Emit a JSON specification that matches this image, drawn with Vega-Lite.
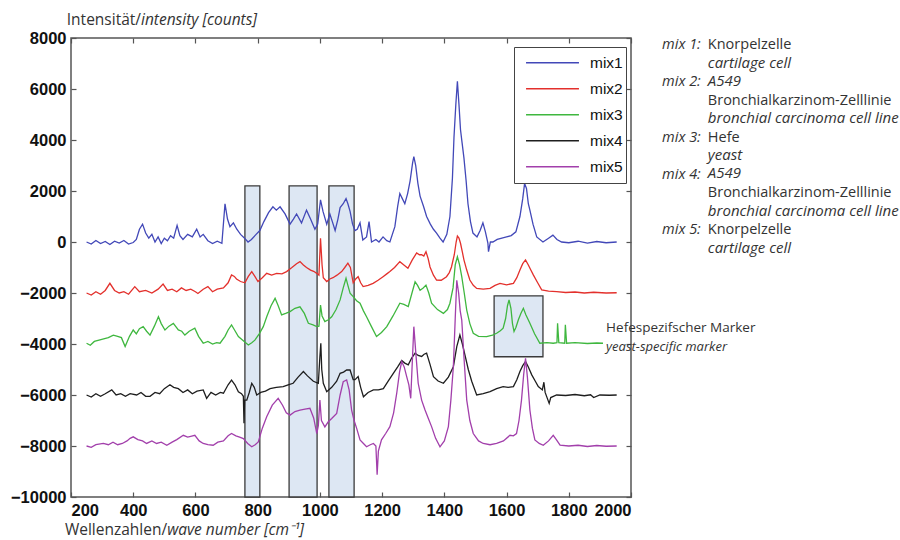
{
  "$schema": "https://vega.github.io/schema/vega-lite/v6.json",
  "autosize": "none",
  "width": 560,
  "height": 459,
  "padding": {"left": 71, "top": 38, "right": 269, "bottom": 43},
  "background": "white",
  "config": {
    "view": {"stroke": "#555", "strokeWidth": 1.5},
    "axis": {"domain": false, "grid": false, "tickColor": "#555", "tickSize": 5, "tickWidth": 1.2, "offset": -5, "labelPadding": 5, "labelFont": "Liberation Sans", "labelFontWeight": "bold", "labelFontSize": 16.5, "labelColor": "#111", "format": "d", "title": null},
    "legend": {"orient": "none", "legendX": 443, "legendY": 9, "strokeColor": "#444", "fillColor": "white", "padding": 3, "clipHeight": 25.5, "rowPadding": 0, "symbolOffset": 8, "labelOffset": 10, "symbolType": "stroke", "symbolSize": 2800, "symbolStrokeWidth": 1.5, "labelFont": "Liberation Sans", "labelFontSize": 15.5, "labelColor": "#111", "title": null},
    "text": {"font": "Open Sans", "align": "left", "baseline": "alphabetic", "color": "#333", "fontSize": 14.5, "lineHeight": 18.5}
  },
  "datasets": {
    "boxes": [
      {"x1": 759, "x2": 807, "y1": -10000, "y2": 2200},
      {"x1": 901, "x2": 991, "y1": -10000, "y2": 2200},
      {"x1": 1029, "x2": 1110, "y1": -10000, "y2": 2200},
      {"x1": 1560, "x2": 1717, "y1": -4500, "y2": -2110}
    ],
    "spectra": [
{"series":"mix1","wn":250,"counts":0},{"series":"mix1","wn":265,"counts":-80},{"series":"mix1","wn":280,"counts":60},{"series":"mix1","wn":295,"counts":-60},{"series":"mix1","wn":310,"counts":20},{"series":"mix1","wn":325,"counts":-100},{"series":"mix1","wn":340,"counts":30},{"series":"mix1","wn":355,"counts":-40},{"series":"mix1","wn":370,"counts":60},{"series":"mix1","wn":385,"counts":-80},{"series":"mix1","wn":400,"counts":-20},{"series":"mix1","wn":410,"counts":100},{"series":"mix1","wn":420,"counts":500},{"series":"mix1","wn":430,"counts":700},{"series":"mix1","wn":440,"counts":350},{"series":"mix1","wn":450,"counts":150},{"series":"mix1","wn":460,"counts":300},{"series":"mix1","wn":470,"counts":0},{"series":"mix1","wn":480,"counts":200},{"series":"mix1","wn":490,"counts":-60},{"series":"mix1","wn":500,"counts":150},{"series":"mix1","wn":510,"counts":50},{"series":"mix1","wn":520,"counts":250},{"series":"mix1","wn":530,"counts":150},{"series":"mix1","wn":541,"counts":650},{"series":"mix1","wn":550,"counts":250},{"series":"mix1","wn":560,"counts":100},{"series":"mix1","wn":575,"counts":300},{"series":"mix1","wn":590,"counts":200},{"series":"mix1","wn":604,"counts":500},{"series":"mix1","wn":615,"counts":200},{"series":"mix1","wn":625,"counts":300},{"series":"mix1","wn":640,"counts":50},{"series":"mix1","wn":655,"counts":-60},{"series":"mix1","wn":670,"counts":30},{"series":"mix1","wn":685,"counts":-50},{"series":"mix1","wn":695,"counts":1500},{"series":"mix1","wn":703,"counts":900},{"series":"mix1","wn":711,"counts":600},{"series":"mix1","wn":722,"counts":750},{"series":"mix1","wn":733,"counts":500},{"series":"mix1","wn":745,"counts":300},{"series":"mix1","wn":758,"counts":150},{"series":"mix1","wn":769,"counts":0},{"series":"mix1","wn":780,"counts":100},{"series":"mix1","wn":795,"counts":300},{"series":"mix1","wn":807,"counts":450},{"series":"mix1","wn":820,"counts":800},{"series":"mix1","wn":835,"counts":1150},{"series":"mix1","wn":849,"counts":1380},{"series":"mix1","wn":860,"counts":1250},{"series":"mix1","wn":872,"counts":1380},{"series":"mix1","wn":888,"counts":1100},{"series":"mix1","wn":904,"counts":700},{"series":"mix1","wn":915,"counts":900},{"series":"mix1","wn":925,"counts":1100},{"series":"mix1","wn":941,"counts":750},{"series":"mix1","wn":957,"counts":1250},{"series":"mix1","wn":970,"counts":900},{"series":"mix1","wn":984,"counts":500},{"series":"mix1","wn":993,"counts":700},{"series":"mix1","wn":1002,"counts":1650},{"series":"mix1","wn":1010,"counts":1200},{"series":"mix1","wn":1022,"counts":700},{"series":"mix1","wn":1032,"counts":1100},{"series":"mix1","wn":1040,"counts":800},{"series":"mix1","wn":1049,"counts":450},{"series":"mix1","wn":1058,"counts":900},{"series":"mix1","wn":1065,"counts":1350},{"series":"mix1","wn":1075,"counts":1500},{"series":"mix1","wn":1084,"counts":1700},{"series":"mix1","wn":1090,"counts":1500},{"series":"mix1","wn":1097,"counts":1200},{"series":"mix1","wn":1105,"counts":700},{"series":"mix1","wn":1113,"counts":450},{"series":"mix1","wn":1120,"counts":500},{"series":"mix1","wn":1129,"counts":750},{"series":"mix1","wn":1138,"counts":80},{"series":"mix1","wn":1150,"counts":200},{"series":"mix1","wn":1158,"counts":800},{"series":"mix1","wn":1166,"counts":0},{"series":"mix1","wn":1180,"counts":100},{"series":"mix1","wn":1190,"counts":0},{"series":"mix1","wn":1203,"counts":200},{"series":"mix1","wn":1215,"counts":50},{"series":"mix1","wn":1225,"counts":0},{"series":"mix1","wn":1241,"counts":600},{"series":"mix1","wn":1250,"counts":1400},{"series":"mix1","wn":1257,"counts":1900},{"series":"mix1","wn":1265,"counts":1700},{"series":"mix1","wn":1273,"counts":1500},{"series":"mix1","wn":1282,"counts":1900},{"series":"mix1","wn":1290,"counts":2400},{"series":"mix1","wn":1298,"counts":3100},{"series":"mix1","wn":1302,"counts":3350},{"series":"mix1","wn":1308,"counts":3000},{"series":"mix1","wn":1315,"counts":2300},{"series":"mix1","wn":1322,"counts":1800},{"series":"mix1","wn":1333,"counts":1400},{"series":"mix1","wn":1343,"counts":1000},{"series":"mix1","wn":1355,"counts":700},{"series":"mix1","wn":1365,"counts":500},{"series":"mix1","wn":1375,"counts":350},{"series":"mix1","wn":1386,"counts":150},{"series":"mix1","wn":1396,"counts":0},{"series":"mix1","wn":1408,"counts":300},{"series":"mix1","wn":1418,"counts":1000},{"series":"mix1","wn":1426,"counts":2500},{"series":"mix1","wn":1431,"counts":4100},{"series":"mix1","wn":1437,"counts":5400},{"series":"mix1","wn":1442,"counts":6300},{"series":"mix1","wn":1447,"counts":5400},{"series":"mix1","wn":1452,"counts":4400},{"series":"mix1","wn":1457,"counts":3900},{"series":"mix1","wn":1463,"counts":3300},{"series":"mix1","wn":1470,"counts":2400},{"series":"mix1","wn":1476,"counts":1500},{"series":"mix1","wn":1484,"counts":800},{"series":"mix1","wn":1492,"counts":350},{"series":"mix1","wn":1505,"counts":200},{"series":"mix1","wn":1515,"counts":450},{"series":"mix1","wn":1524,"counts":750},{"series":"mix1","wn":1532,"counts":400},{"series":"mix1","wn":1540,"counts":-40},{"series":"mix1","wn":1542,"counts":-380},{"series":"mix1","wn":1548,"counts":0},{"series":"mix1","wn":1556,"counts":0},{"series":"mix1","wn":1570,"counts":100},{"series":"mix1","wn":1585,"counts":150},{"series":"mix1","wn":1600,"counts":200},{"series":"mix1","wn":1615,"counts":250},{"series":"mix1","wn":1630,"counts":400},{"series":"mix1","wn":1643,"counts":1000},{"series":"mix1","wn":1652,"counts":1700},{"series":"mix1","wn":1658,"counts":2300},{"series":"mix1","wn":1664,"counts":2100},{"series":"mix1","wn":1670,"counts":1500},{"series":"mix1","wn":1675,"counts":1250},{"series":"mix1","wn":1685,"counts":700},{"series":"mix1","wn":1697,"counts":200},{"series":"mix1","wn":1717,"counts":0},{"series":"mix1","wn":1735,"counts":150},{"series":"mix1","wn":1749,"counts":270},{"series":"mix1","wn":1762,"counts":100},{"series":"mix1","wn":1777,"counts":0},{"series":"mix1","wn":1800,"counts":-30},{"series":"mix1","wn":1830,"counts":30},{"series":"mix1","wn":1860,"counts":-40},{"series":"mix1","wn":1890,"counts":20},{"series":"mix1","wn":1920,"counts":-30},{"series":"mix1","wn":1954,"counts":0},
{"series":"mix2","wn":250,"counts":-2000},{"series":"mix2","wn":265,"counts":-2080},{"series":"mix2","wn":280,"counts":-1950},{"series":"mix2","wn":295,"counts":-2050},{"series":"mix2","wn":310,"counts":-1900},{"series":"mix2","wn":325,"counts":-1620},{"series":"mix2","wn":340,"counts":-1900},{"series":"mix2","wn":355,"counts":-2000},{"series":"mix2","wn":370,"counts":-1950},{"series":"mix2","wn":385,"counts":-2050},{"series":"mix2","wn":405,"counts":-1750},{"series":"mix2","wn":420,"counts":-1950},{"series":"mix2","wn":440,"counts":-1900},{"series":"mix2","wn":460,"counts":-2000},{"series":"mix2","wn":480,"counts":-1850},{"series":"mix2","wn":496,"counts":-1650},{"series":"mix2","wn":510,"counts":-1900},{"series":"mix2","wn":525,"counts":-1850},{"series":"mix2","wn":540,"counts":-1950},{"series":"mix2","wn":555,"counts":-1800},{"series":"mix2","wn":570,"counts":-1900},{"series":"mix2","wn":585,"counts":-1850},{"series":"mix2","wn":600,"counts":-1950},{"series":"mix2","wn":608,"counts":-2020},{"series":"mix2","wn":625,"counts":-1850},{"series":"mix2","wn":640,"counts":-1750},{"series":"mix2","wn":655,"counts":-1950},{"series":"mix2","wn":670,"counts":-1850},{"series":"mix2","wn":690,"counts":-1800},{"series":"mix2","wn":705,"counts":-1600},{"series":"mix2","wn":716,"counts":-1290},{"series":"mix2","wn":725,"counts":-1350},{"series":"mix2","wn":732,"counts":-1450},{"series":"mix2","wn":745,"counts":-1550},{"series":"mix2","wn":759,"counts":-1600},{"series":"mix2","wn":770,"counts":-1350},{"series":"mix2","wn":781,"counts":-1160},{"series":"mix2","wn":791,"counts":-1350},{"series":"mix2","wn":801,"counts":-1550},{"series":"mix2","wn":815,"counts":-1400},{"series":"mix2","wn":829,"counts":-1230},{"series":"mix2","wn":845,"counts":-1300},{"series":"mix2","wn":861,"counts":-1230},{"series":"mix2","wn":878,"counts":-1250},{"series":"mix2","wn":893,"counts":-1160},{"series":"mix2","wn":910,"counts":-1000},{"series":"mix2","wn":925,"counts":-850},{"series":"mix2","wn":936,"counts":-770},{"series":"mix2","wn":947,"counts":-900},{"series":"mix2","wn":957,"counts":-1000},{"series":"mix2","wn":970,"counts":-1100},{"series":"mix2","wn":980,"counts":-1150},{"series":"mix2","wn":990,"counts":-1230},{"series":"mix2","wn":997,"counts":-1300},{"series":"mix2","wn":1002,"counts":150},{"series":"mix2","wn":1007,"counts":-900},{"series":"mix2","wn":1011,"counts":-1400},{"series":"mix2","wn":1022,"counts":-1550},{"series":"mix2","wn":1032,"counts":-1450},{"series":"mix2","wn":1042,"counts":-1400},{"series":"mix2","wn":1055,"counts":-1300},{"series":"mix2","wn":1070,"counts":-1160},{"series":"mix2","wn":1080,"counts":-1000},{"series":"mix2","wn":1090,"counts":-830},{"series":"mix2","wn":1098,"counts":-1000},{"series":"mix2","wn":1107,"counts":-1600},{"series":"mix2","wn":1115,"counts":-1450},{"series":"mix2","wn":1123,"counts":-1360},{"series":"mix2","wn":1131,"counts":-1600},{"series":"mix2","wn":1139,"counts":-1750},{"series":"mix2","wn":1155,"counts":-1700},{"series":"mix2","wn":1171,"counts":-1620},{"series":"mix2","wn":1187,"counts":-1500},{"series":"mix2","wn":1203,"counts":-1360},{"series":"mix2","wn":1215,"counts":-1250},{"series":"mix2","wn":1225,"counts":-1160},{"series":"mix2","wn":1240,"counts":-1000},{"series":"mix2","wn":1257,"counts":-770},{"series":"mix2","wn":1270,"counts":-900},{"series":"mix2","wn":1283,"counts":-1030},{"series":"mix2","wn":1297,"counts":-700},{"series":"mix2","wn":1311,"counts":-430},{"series":"mix2","wn":1320,"counts":-500},{"series":"mix2","wn":1327,"counts":-500},{"series":"mix2","wn":1334,"counts":-550},{"series":"mix2","wn":1341,"counts":-380},{"series":"mix2","wn":1348,"counts":-650},{"series":"mix2","wn":1354,"counts":-980},{"series":"mix2","wn":1365,"counts":-1300},{"series":"mix2","wn":1375,"counts":-1490},{"series":"mix2","wn":1390,"counts":-1500},{"series":"mix2","wn":1407,"counts":-1360},{"series":"mix2","wn":1416,"counts":-1200},{"series":"mix2","wn":1423,"counts":-980},{"series":"mix2","wn":1432,"counts":-500},{"series":"mix2","wn":1438,"counts":0},{"series":"mix2","wn":1442,"counts":230},{"series":"mix2","wn":1447,"counts":150},{"series":"mix2","wn":1452,"counts":-50},{"series":"mix2","wn":1458,"counts":-400},{"series":"mix2","wn":1463,"counts":-700},{"series":"mix2","wn":1472,"counts":-1100},{"series":"mix2","wn":1482,"counts":-1490},{"series":"mix2","wn":1493,"counts":-1700},{"series":"mix2","wn":1504,"counts":-1820},{"series":"mix2","wn":1525,"counts":-1850},{"series":"mix2","wn":1547,"counts":-1820},{"series":"mix2","wn":1563,"counts":-1700},{"series":"mix2","wn":1579,"counts":-1620},{"series":"mix2","wn":1600,"counts":-1680},{"series":"mix2","wn":1622,"counts":-1620},{"series":"mix2","wn":1633,"counts":-1400},{"series":"mix2","wn":1643,"counts":-1100},{"series":"mix2","wn":1652,"counts":-850},{"series":"mix2","wn":1661,"counts":-700},{"series":"mix2","wn":1670,"counts":-900},{"series":"mix2","wn":1678,"counts":-1100},{"series":"mix2","wn":1686,"counts":-1290},{"series":"mix2","wn":1700,"counts":-1600},{"series":"mix2","wn":1713,"counts":-1880},{"series":"mix2","wn":1735,"counts":-1930},{"series":"mix2","wn":1761,"counts":-1950},{"series":"mix2","wn":1790,"counts":-1980},{"series":"mix2","wn":1820,"counts":-1960},{"series":"mix2","wn":1850,"counts":-2000},{"series":"mix2","wn":1880,"counts":-1970},{"series":"mix2","wn":1920,"counts":-2000},{"series":"mix2","wn":1954,"counts":-1990},
{"series":"mix3","wn":250,"counts":-3970},{"series":"mix3","wn":262,"counts":-4050},{"series":"mix3","wn":275,"counts":-3900},{"series":"mix3","wn":290,"counts":-3850},{"series":"mix3","wn":305,"counts":-3800},{"series":"mix3","wn":320,"counts":-3750},{"series":"mix3","wn":336,"counts":-3650},{"series":"mix3","wn":350,"counts":-3700},{"series":"mix3","wn":362,"counts":-3750},{"series":"mix3","wn":374,"counts":-4100},{"series":"mix3","wn":388,"counts":-3700},{"series":"mix3","wn":400,"counts":-3450},{"series":"mix3","wn":410,"counts":-3600},{"series":"mix3","wn":420,"counts":-3400},{"series":"mix3","wn":432,"counts":-3320},{"series":"mix3","wn":443,"counts":-3500},{"series":"mix3","wn":454,"counts":-3650},{"series":"mix3","wn":468,"counts":-3300},{"series":"mix3","wn":481,"counts":-2930},{"series":"mix3","wn":490,"counts":-3200},{"series":"mix3","wn":502,"counts":-3450},{"series":"mix3","wn":515,"counts":-3300},{"series":"mix3","wn":529,"counts":-3190},{"series":"mix3","wn":545,"counts":-3450},{"series":"mix3","wn":556,"counts":-3500},{"series":"mix3","wn":566,"counts":-3650},{"series":"mix3","wn":580,"counts":-3500},{"series":"mix3","wn":598,"counts":-3380},{"series":"mix3","wn":610,"counts":-3700},{"series":"mix3","wn":625,"counts":-3970},{"series":"mix3","wn":640,"counts":-3900},{"series":"mix3","wn":655,"counts":-4000},{"series":"mix3","wn":668,"counts":-3950},{"series":"mix3","wn":679,"counts":-3970},{"series":"mix3","wn":695,"counts":-3700},{"series":"mix3","wn":705,"counts":-3450},{"series":"mix3","wn":716,"counts":-3250},{"series":"mix3","wn":728,"counts":-3500},{"series":"mix3","wn":738,"counts":-3710},{"series":"mix3","wn":752,"counts":-3850},{"series":"mix3","wn":770,"counts":-4040},{"series":"mix3","wn":781,"counts":-3950},{"series":"mix3","wn":791,"counts":-3850},{"series":"mix3","wn":805,"counts":-3600},{"series":"mix3","wn":818,"counts":-3320},{"series":"mix3","wn":830,"counts":-2900},{"series":"mix3","wn":843,"counts":-2500},{"series":"mix3","wn":856,"counts":-2210},{"series":"mix3","wn":866,"counts":-2500},{"series":"mix3","wn":877,"counts":-2860},{"series":"mix3","wn":890,"counts":-2800},{"series":"mix3","wn":904,"counts":-2730},{"series":"mix3","wn":920,"counts":-2600},{"series":"mix3","wn":936,"counts":-2540},{"series":"mix3","wn":950,"counts":-2800},{"series":"mix3","wn":963,"counts":-3190},{"series":"mix3","wn":978,"counts":-3250},{"series":"mix3","wn":990,"counts":-3320},{"series":"mix3","wn":997,"counts":-3300},{"series":"mix3","wn":1002,"counts":-2470},{"series":"mix3","wn":1007,"counts":-2900},{"series":"mix3","wn":1016,"counts":-3120},{"series":"mix3","wn":1027,"counts":-3050},{"series":"mix3","wn":1038,"counts":-2930},{"series":"mix3","wn":1052,"counts":-2650},{"series":"mix3","wn":1065,"counts":-2270},{"series":"mix3","wn":1075,"counts":-1800},{"series":"mix3","wn":1084,"counts":-1420},{"series":"mix3","wn":1090,"counts":-1700},{"series":"mix3","wn":1097,"counts":-2010},{"series":"mix3","wn":1107,"counts":-2140},{"series":"mix3","wn":1118,"counts":-2300},{"series":"mix3","wn":1129,"counts":-2400},{"series":"mix3","wn":1140,"counts":-2700},{"series":"mix3","wn":1150,"counts":-2930},{"series":"mix3","wn":1165,"counts":-3300},{"series":"mix3","wn":1182,"counts":-3710},{"series":"mix3","wn":1198,"counts":-3550},{"series":"mix3","wn":1215,"counts":-3320},{"series":"mix3","wn":1235,"counts":-2900},{"series":"mix3","wn":1257,"counts":-2400},{"series":"mix3","wn":1270,"counts":-2450},{"series":"mix3","wn":1284,"counts":-2530},{"series":"mix3","wn":1296,"counts":-2000},{"series":"mix3","wn":1306,"counts":-1560},{"series":"mix3","wn":1314,"counts":-1700},{"series":"mix3","wn":1322,"counts":-1890},{"series":"mix3","wn":1332,"counts":-1800},{"series":"mix3","wn":1341,"counts":-1690},{"series":"mix3","wn":1350,"counts":-2000},{"series":"mix3","wn":1359,"counts":-2400},{"series":"mix3","wn":1378,"counts":-2650},{"series":"mix3","wn":1397,"counts":-2800},{"series":"mix3","wn":1410,"counts":-2650},{"series":"mix3","wn":1418,"counts":-2400},{"series":"mix3","wn":1428,"counts":-1800},{"series":"mix3","wn":1435,"counts":-900},{"series":"mix3","wn":1442,"counts":-580},{"series":"mix3","wn":1449,"counts":-900},{"series":"mix3","wn":1456,"counts":-1360},{"series":"mix3","wn":1464,"counts":-2000},{"series":"mix3","wn":1472,"counts":-2670},{"series":"mix3","wn":1482,"counts":-3200},{"series":"mix3","wn":1493,"counts":-3580},{"series":"mix3","wn":1510,"counts":-3700},{"series":"mix3","wn":1536,"counts":-3710},{"series":"mix3","wn":1555,"counts":-3650},{"series":"mix3","wn":1568,"counts":-3580},{"series":"mix3","wn":1580,"counts":-3480},{"series":"mix3","wn":1589,"counts":-3380},{"series":"mix3","wn":1597,"counts":-3000},{"series":"mix3","wn":1603,"counts":-2500},{"series":"mix3","wn":1608,"counts":-2270},{"series":"mix3","wn":1614,"counts":-2600},{"series":"mix3","wn":1619,"counts":-3200},{"series":"mix3","wn":1624,"counts":-3510},{"series":"mix3","wn":1630,"counts":-3350},{"series":"mix3","wn":1638,"counts":-3050},{"series":"mix3","wn":1646,"counts":-2800},{"series":"mix3","wn":1654,"counts":-2600},{"series":"mix3","wn":1662,"counts":-2850},{"series":"mix3","wn":1675,"counts":-3190},{"series":"mix3","wn":1690,"counts":-3600},{"series":"mix3","wn":1707,"counts":-3970},{"series":"mix3","wn":1730,"counts":-3950},{"series":"mix3","wn":1750,"counts":-3970},{"series":"mix3","wn":1762,"counts":-3950},{"series":"mix3","wn":1764,"counts":-3190},{"series":"mix3","wn":1768,"counts":-3950},{"series":"mix3","wn":1787,"counts":-3970},{"series":"mix3","wn":1789,"counts":-3250},{"series":"mix3","wn":1793,"counts":-3970},{"series":"mix3","wn":1820,"counts":-3950},{"series":"mix3","wn":1860,"counts":-3980},{"series":"mix3","wn":1890,"counts":-3960},{"series":"mix3","wn":1910,"counts":-3970},
{"series":"mix4","wn":250,"counts":-6000},{"series":"mix4","wn":265,"counts":-6080},{"series":"mix4","wn":280,"counts":-5950},{"series":"mix4","wn":295,"counts":-6050},{"series":"mix4","wn":310,"counts":-5950},{"series":"mix4","wn":331,"counts":-5800},{"series":"mix4","wn":345,"counts":-6000},{"series":"mix4","wn":360,"counts":-5950},{"series":"mix4","wn":375,"counts":-6050},{"series":"mix4","wn":390,"counts":-5950},{"series":"mix4","wn":411,"counts":-6000},{"series":"mix4","wn":425,"counts":-5900},{"series":"mix4","wn":440,"counts":-6050},{"series":"mix4","wn":454,"counts":-6050},{"series":"mix4","wn":470,"counts":-5900},{"series":"mix4","wn":485,"counts":-5950},{"series":"mix4","wn":500,"counts":-5750},{"series":"mix4","wn":518,"counts":-5600},{"series":"mix4","wn":530,"counts":-5700},{"series":"mix4","wn":545,"counts":-5750},{"series":"mix4","wn":560,"counts":-5900},{"series":"mix4","wn":575,"counts":-5800},{"series":"mix4","wn":590,"counts":-5950},{"series":"mix4","wn":605,"counts":-5850},{"series":"mix4","wn":625,"counts":-5800},{"series":"mix4","wn":636,"counts":-6130},{"series":"mix4","wn":650,"counts":-5900},{"series":"mix4","wn":665,"counts":-6000},{"series":"mix4","wn":680,"counts":-5900},{"series":"mix4","wn":690,"counts":-5930},{"series":"mix4","wn":705,"counts":-5600},{"series":"mix4","wn":716,"counts":-5420},{"series":"mix4","wn":727,"counts":-5600},{"series":"mix4","wn":738,"counts":-5870},{"series":"mix4","wn":748,"counts":-5950},{"series":"mix4","wn":754,"counts":-6050},{"series":"mix4","wn":756,"counts":-7110},{"series":"mix4","wn":758,"counts":-6200},{"series":"mix4","wn":765,"counts":-6200},{"series":"mix4","wn":773,"counts":-5900},{"series":"mix4","wn":781,"counts":-5540},{"series":"mix4","wn":789,"counts":-5700},{"series":"mix4","wn":797,"counts":-6000},{"series":"mix4","wn":810,"counts":-5900},{"series":"mix4","wn":825,"counts":-5850},{"series":"mix4","wn":840,"counts":-5750},{"series":"mix4","wn":860,"counts":-5700},{"series":"mix4","wn":882,"counts":-5670},{"series":"mix4","wn":898,"counts":-5600},{"series":"mix4","wn":914,"counts":-5540},{"series":"mix4","wn":930,"counts":-5300},{"series":"mix4","wn":947,"counts":-5080},{"series":"mix4","wn":960,"counts":-5250},{"series":"mix4","wn":979,"counts":-5460},{"series":"mix4","wn":995,"counts":-5540},{"series":"mix4","wn":1000,"counts":-4500},{"series":"mix4","wn":1003,"counts":-3970},{"series":"mix4","wn":1006,"counts":-5000},{"series":"mix4","wn":1011,"counts":-5540},{"series":"mix4","wn":1022,"counts":-5870},{"series":"mix4","wn":1038,"counts":-5700},{"series":"mix4","wn":1054,"counts":-5460},{"series":"mix4","wn":1065,"counts":-5150},{"series":"mix4","wn":1076,"counts":-5100},{"series":"mix4","wn":1086,"counts":-5020},{"series":"mix4","wn":1097,"counts":-5020},{"series":"mix4","wn":1107,"counts":-5400},{"series":"mix4","wn":1113,"counts":-5400},{"series":"mix4","wn":1123,"counts":-5280},{"series":"mix4","wn":1131,"counts":-5700},{"series":"mix4","wn":1140,"counts":-6070},{"series":"mix4","wn":1155,"counts":-5900},{"series":"mix4","wn":1172,"counts":-5800},{"series":"mix4","wn":1188,"counts":-5800},{"series":"mix4","wn":1204,"counts":-5750},{"series":"mix4","wn":1220,"counts":-5450},{"series":"mix4","wn":1236,"counts":-5150},{"series":"mix4","wn":1250,"counts":-4900},{"series":"mix4","wn":1263,"counts":-4650},{"series":"mix4","wn":1273,"counts":-4750},{"series":"mix4","wn":1284,"counts":-4820},{"series":"mix4","wn":1295,"counts":-4550},{"series":"mix4","wn":1306,"counts":-4360},{"series":"mix4","wn":1316,"counts":-4450},{"series":"mix4","wn":1327,"counts":-4490},{"series":"mix4","wn":1335,"counts":-4400},{"series":"mix4","wn":1343,"counts":-4360},{"series":"mix4","wn":1354,"counts":-4800},{"series":"mix4","wn":1365,"counts":-5280},{"series":"mix4","wn":1380,"counts":-5450},{"series":"mix4","wn":1397,"counts":-5540},{"series":"mix4","wn":1413,"counts":-5300},{"series":"mix4","wn":1429,"counts":-4890},{"series":"mix4","wn":1440,"counts":-4100},{"series":"mix4","wn":1450,"counts":-3650},{"series":"mix4","wn":1458,"counts":-4000},{"series":"mix4","wn":1466,"counts":-4420},{"series":"mix4","wn":1477,"counts":-5000},{"series":"mix4","wn":1488,"counts":-5460},{"series":"mix4","wn":1504,"counts":-6000},{"series":"mix4","wn":1525,"counts":-5950},{"series":"mix4","wn":1547,"counts":-5870},{"series":"mix4","wn":1568,"counts":-5750},{"series":"mix4","wn":1589,"counts":-5670},{"series":"mix4","wn":1605,"counts":-5700},{"series":"mix4","wn":1622,"counts":-5670},{"series":"mix4","wn":1633,"counts":-5400},{"series":"mix4","wn":1643,"counts":-5080},{"series":"mix4","wn":1652,"counts":-4850},{"series":"mix4","wn":1661,"counts":-4690},{"series":"mix4","wn":1670,"counts":-4900},{"series":"mix4","wn":1681,"counts":-5210},{"series":"mix4","wn":1692,"counts":-5450},{"series":"mix4","wn":1702,"counts":-5670},{"series":"mix4","wn":1715,"counts":-5800},{"series":"mix4","wn":1720,"counts":-5500},{"series":"mix4","wn":1724,"counts":-5900},{"series":"mix4","wn":1737,"counts":-6330},{"series":"mix4","wn":1742,"counts":-6100},{"series":"mix4","wn":1761,"counts":-6000},{"series":"mix4","wn":1790,"counts":-6020},{"series":"mix4","wn":1820,"counts":-5980},{"series":"mix4","wn":1850,"counts":-6030},{"series":"mix4","wn":1870,"counts":-5990},{"series":"mix4","wn":1880,"counts":-6100},{"series":"mix4","wn":1900,"counts":-6000},{"series":"mix4","wn":1930,"counts":-6010},{"series":"mix4","wn":1954,"counts":-6000},
{"series":"mix5","wn":250,"counts":-8000},{"series":"mix5","wn":265,"counts":-8050},{"series":"mix5","wn":280,"counts":-7950},{"series":"mix5","wn":304,"counts":-7900},{"series":"mix5","wn":320,"counts":-7950},{"series":"mix5","wn":335,"counts":-7850},{"series":"mix5","wn":350,"counts":-7950},{"series":"mix5","wn":365,"counts":-7900},{"series":"mix5","wn":380,"counts":-7800},{"series":"mix5","wn":390,"counts":-7700},{"series":"mix5","wn":400,"counts":-7640},{"series":"mix5","wn":415,"counts":-7750},{"series":"mix5","wn":430,"counts":-7800},{"series":"mix5","wn":443,"counts":-7900},{"series":"mix5","wn":460,"counts":-7800},{"series":"mix5","wn":475,"counts":-7900},{"series":"mix5","wn":490,"counts":-7850},{"series":"mix5","wn":508,"counts":-7970},{"series":"mix5","wn":525,"counts":-7850},{"series":"mix5","wn":540,"counts":-7750},{"series":"mix5","wn":561,"counts":-7580},{"series":"mix5","wn":575,"counts":-7650},{"series":"mix5","wn":585,"counts":-7620},{"series":"mix5","wn":598,"counts":-7580},{"series":"mix5","wn":612,"counts":-7800},{"series":"mix5","wn":625,"counts":-7900},{"series":"mix5","wn":640,"counts":-7950},{"series":"mix5","wn":657,"counts":-7970},{"series":"mix5","wn":672,"counts":-7850},{"series":"mix5","wn":690,"counts":-7800},{"series":"mix5","wn":705,"counts":-7600},{"series":"mix5","wn":716,"counts":-7510},{"series":"mix5","wn":730,"counts":-7600},{"series":"mix5","wn":742,"counts":-7650},{"series":"mix5","wn":754,"counts":-7710},{"series":"mix5","wn":768,"counts":-7900},{"series":"mix5","wn":781,"counts":-8030},{"series":"mix5","wn":792,"counts":-7950},{"series":"mix5","wn":802,"counts":-7840},{"series":"mix5","wn":815,"counts":-7300},{"series":"mix5","wn":829,"counts":-6850},{"series":"mix5","wn":847,"counts":-6400},{"series":"mix5","wn":866,"counts":-6130},{"series":"mix5","wn":880,"counts":-6400},{"series":"mix5","wn":892,"counts":-6700},{"series":"mix5","wn":904,"counts":-6790},{"series":"mix5","wn":920,"counts":-6650},{"series":"mix5","wn":936,"counts":-6590},{"series":"mix5","wn":952,"counts":-6550},{"series":"mix5","wn":968,"counts":-6520},{"series":"mix5","wn":980,"counts":-6900},{"series":"mix5","wn":990,"counts":-7510},{"series":"mix5","wn":995,"counts":-7200},{"series":"mix5","wn":1000,"counts":-6200},{"series":"mix5","wn":1005,"counts":-7000},{"series":"mix5","wn":1016,"counts":-7250},{"series":"mix5","wn":1027,"counts":-7050},{"series":"mix5","wn":1038,"counts":-6920},{"series":"mix5","wn":1054,"counts":-6720},{"series":"mix5","wn":1065,"counts":-6000},{"series":"mix5","wn":1075,"counts":-5480},{"series":"mix5","wn":1086,"counts":-5410},{"series":"mix5","wn":1094,"counts":-5800},{"series":"mix5","wn":1102,"counts":-6590},{"series":"mix5","wn":1110,"counts":-7000},{"series":"mix5","wn":1118,"counts":-7300},{"series":"mix5","wn":1129,"counts":-7760},{"series":"mix5","wn":1140,"counts":-7900},{"series":"mix5","wn":1150,"counts":-8030},{"series":"mix5","wn":1162,"counts":-7950},{"series":"mix5","wn":1172,"counts":-7900},{"series":"mix5","wn":1180,"counts":-8000},{"series":"mix5","wn":1184,"counts":-9130},{"series":"mix5","wn":1188,"counts":-8200},{"series":"mix5","wn":1198,"counts":-7760},{"series":"mix5","wn":1212,"counts":-7500},{"series":"mix5","wn":1225,"counts":-7240},{"series":"mix5","wn":1237,"counts":-6700},{"series":"mix5","wn":1247,"counts":-5930},{"series":"mix5","wn":1256,"counts":-5100},{"series":"mix5","wn":1263,"counts":-4690},{"series":"mix5","wn":1271,"counts":-4900},{"series":"mix5","wn":1279,"counts":-5280},{"series":"mix5","wn":1286,"counts":-5600},{"series":"mix5","wn":1292,"counts":-6130},{"series":"mix5","wn":1296,"counts":-5000},{"series":"mix5","wn":1302,"counts":-3320},{"series":"mix5","wn":1308,"counts":-4300},{"series":"mix5","wn":1316,"counts":-5540},{"series":"mix5","wn":1327,"counts":-6200},{"series":"mix5","wn":1338,"counts":-6590},{"series":"mix5","wn":1348,"counts":-6900},{"series":"mix5","wn":1359,"counts":-7240},{"series":"mix5","wn":1372,"counts":-7700},{"series":"mix5","wn":1386,"counts":-8030},{"series":"mix5","wn":1400,"counts":-7800},{"series":"mix5","wn":1413,"counts":-7240},{"series":"mix5","wn":1421,"counts":-6200},{"series":"mix5","wn":1429,"counts":-4890},{"series":"mix5","wn":1435,"counts":-3000},{"series":"mix5","wn":1440,"counts":-1500},{"series":"mix5","wn":1446,"counts":-2000},{"series":"mix5","wn":1451,"counts":-2700},{"series":"mix5","wn":1456,"counts":-3060},{"series":"mix5","wn":1463,"counts":-4500},{"series":"mix5","wn":1472,"counts":-6200},{"series":"mix5","wn":1482,"counts":-7000},{"series":"mix5","wn":1493,"counts":-7510},{"series":"mix5","wn":1510,"counts":-7800},{"series":"mix5","wn":1525,"counts":-7900},{"series":"mix5","wn":1547,"counts":-7950},{"series":"mix5","wn":1568,"counts":-7900},{"series":"mix5","wn":1590,"counts":-7800},{"series":"mix5","wn":1611,"counts":-7580},{"series":"mix5","wn":1622,"counts":-7600},{"series":"mix5","wn":1632,"counts":-7510},{"series":"mix5","wn":1640,"counts":-7000},{"series":"mix5","wn":1648,"counts":-6200},{"series":"mix5","wn":1655,"counts":-5200},{"series":"mix5","wn":1661,"counts":-4560},{"series":"mix5","wn":1667,"counts":-5300},{"series":"mix5","wn":1675,"counts":-6590},{"series":"mix5","wn":1683,"counts":-7300},{"series":"mix5","wn":1691,"counts":-7760},{"series":"mix5","wn":1705,"counts":-7900},{"series":"mix5","wn":1718,"counts":-7970},{"series":"mix5","wn":1735,"counts":-7800},{"series":"mix5","wn":1750,"counts":-7580},{"series":"mix5","wn":1760,"counts":-7750},{"series":"mix5","wn":1772,"counts":-7970},{"series":"mix5","wn":1800,"counts":-8000},{"series":"mix5","wn":1830,"counts":-7970},{"series":"mix5","wn":1860,"counts":-8020},{"series":"mix5","wn":1890,"counts":-7980},{"series":"mix5","wn":1920,"counts":-8010},{"series":"mix5","wn":1954,"counts":-8000}
    ]
  },
  "resolve": {"axis": {"x": "independent", "y": "independent"}},
  "layer": [
    {
      "data": {"name": "boxes"},
      "mark": {"type": "rect", "fill": "#dde7f3", "stroke": "#3a3a3a", "strokeWidth": 1.3},
      "encoding": {
        "x": {"field": "x1", "type": "quantitative", "scale": {"domain": [200, 2000], "nice": false, "zero": false}, "axis": {"orient": "bottom", "values": [200, 400, 600, 800, 1000, 1200, 1400, 1600, 1800, 2000]}},
        "x2": {"field": "x2"},
        "y": {"field": "y1", "type": "quantitative", "scale": {"domain": [-10000, 8000], "nice": false, "zero": false}, "axis": {"orient": "left", "values": [-10000, -8000, -6000, -4000, -2000, 0, 2000, 4000, 6000, 8000]}},
        "y2": {"field": "y2"}
      }
    },
    {
      "data": {"name": "spectra"},
      "mark": {"type": "line", "strokeWidth": 1.3, "clip": true},
      "encoding": {
        "x": {"field": "wn", "type": "quantitative", "axis": {"orient": "top", "labels": false, "values": [200, 400, 600, 800, 1000, 1200, 1400, 1600, 1800, 2000]}},
        "y": {"field": "counts", "type": "quantitative", "axis": {"orient": "right", "labels": false, "values": [-10000, -8000, -6000, -4000, -2000, 0, 2000, 4000, 6000, 8000]}},
        "color": {"field": "series", "type": "nominal", "scale": {"domain": ["mix1", "mix2", "mix3", "mix4", "mix5"], "range": ["#4248b8", "#e3302c", "#3fb73f", "#1e1e1e", "#a23fab"]}},
        "order": {"field": "wn", "type": "quantitative"}
      }
    },
    {
      "data": {"values": [{"t": "Intensität/"}]},
      "mark": {"type": "text", "align": "right", "fontSize": 15.5},
      "encoding": {"x": {"datum": 425, "axis": null}, "y": {"datum": 8510, "axis": null}, "text": {"field": "t"}}
    },
    {
      "data": {"values": [{"t": "intensity [counts]"}]},
      "mark": {"type": "text", "fontSize": 15.5, "fontStyle": "italic"},
      "encoding": {"x": {"datum": 425, "axis": null}, "y": {"datum": 8510, "axis": null}, "text": {"field": "t"}}
    },
    {
      "data": {"values": [{"t": "Wellenzahlen/"}]},
      "mark": {"type": "text", "align": "right", "fontSize": 15.5},
      "encoding": {"x": {"datum": 509, "axis": null}, "y": {"datum": -11490, "axis": null}, "text": {"field": "t"}}
    },
    {
      "data": {"values": [{"t": "wave number [cm⁻¹]"}]},
      "mark": {"type": "text", "fontSize": 15.5, "fontStyle": "italic"},
      "encoding": {"x": {"datum": 509, "axis": null}, "y": {"datum": -11490, "axis": null}, "text": {"field": "t"}}
    },
    {
      "data": {"values": [{"t": "Hefespezifscher Marker"}]},
      "mark": {"type": "text", "fontSize": 13.5},
      "encoding": {"x": {"datum": 1920, "axis": null}, "y": {"datum": -3530, "axis": null}, "text": {"field": "t"}}
    },
    {
      "data": {"values": [{"t": "yeast-specific marker"}]},
      "mark": {"type": "text", "fontSize": 13, "fontStyle": "italic"},
      "encoding": {"x": {"datum": 1920, "axis": null}, "y": {"datum": -4280, "axis": null}, "text": {"field": "t"}}
    },
    {
      "data": {"values": [{"t": "mix 1:"}]},
      "mark": {"type": "text", "fontStyle": "italic"},
      "encoding": {"x": {"datum": 2100, "axis": null}, "y": {"datum": 7569, "axis": null}, "text": {"field": "t"}}
    },
    {
      "data": {"values": [{"t": "mix 2:"}]},
      "mark": {"type": "text", "fontStyle": "italic"},
      "encoding": {"x": {"datum": 2100, "axis": null}, "y": {"datum": 6118, "axis": null}, "text": {"field": "t"}}
    },
    {
      "data": {"values": [{"t": "mix 3:"}]},
      "mark": {"type": "text", "fontStyle": "italic"},
      "encoding": {"x": {"datum": 2100, "axis": null}, "y": {"datum": 3941, "axis": null}, "text": {"field": "t"}}
    },
    {
      "data": {"values": [{"t": "mix 4:"}]},
      "mark": {"type": "text", "fontStyle": "italic"},
      "encoding": {"x": {"datum": 2100, "axis": null}, "y": {"datum": 2490, "axis": null}, "text": {"field": "t"}}
    },
    {
      "data": {"values": [{"t": "mix 5:"}]},
      "mark": {"type": "text", "fontStyle": "italic"},
      "encoding": {"x": {"datum": 2100, "axis": null}, "y": {"datum": 314, "axis": null}, "text": {"field": "t"}}
    },
    {
      "data": {"values": [{"t": "Knorpelzelle"}]},
      "mark": {"type": "text"},
      "encoding": {"x": {"datum": 2247, "axis": null}, "y": {"datum": 7569, "axis": null}, "text": {"field": "t"}}
    },
    {
      "data": {"values": [{"t": ["cartilage cell", "A549"]}]},
      "mark": {"type": "text", "fontStyle": "italic", "fontSize": 15},
      "encoding": {"x": {"datum": 2247, "axis": null}, "y": {"datum": 6843, "axis": null}, "text": {"field": "t"}}
    },
    {
      "data": {"values": [{"t": "Bronchialkarzinom-Zelllinie"}]},
      "mark": {"type": "text"},
      "encoding": {"x": {"datum": 2247, "axis": null}, "y": {"datum": 5392, "axis": null}, "text": {"field": "t"}}
    },
    {
      "data": {"values": [{"t": "bronchial carcinoma cell line"}]},
      "mark": {"type": "text", "fontStyle": "italic", "fontSize": 15},
      "encoding": {"x": {"datum": 2247, "axis": null}, "y": {"datum": 4667, "axis": null}, "text": {"field": "t"}}
    },
    {
      "data": {"values": [{"t": "Hefe"}]},
      "mark": {"type": "text"},
      "encoding": {"x": {"datum": 2247, "axis": null}, "y": {"datum": 3941, "axis": null}, "text": {"field": "t"}}
    },
    {
      "data": {"values": [{"t": ["yeast", "A549"]}]},
      "mark": {"type": "text", "fontStyle": "italic", "fontSize": 15},
      "encoding": {"x": {"datum": 2247, "axis": null}, "y": {"datum": 3216, "axis": null}, "text": {"field": "t"}}
    },
    {
      "data": {"values": [{"t": "Bronchialkarzinom-Zelllinie"}]},
      "mark": {"type": "text"},
      "encoding": {"x": {"datum": 2247, "axis": null}, "y": {"datum": 1765, "axis": null}, "text": {"field": "t"}}
    },
    {
      "data": {"values": [{"t": "bronchial carcinoma cell line"}]},
      "mark": {"type": "text", "fontStyle": "italic", "fontSize": 15},
      "encoding": {"x": {"datum": 2247, "axis": null}, "y": {"datum": 1039, "axis": null}, "text": {"field": "t"}}
    },
    {
      "data": {"values": [{"t": "Knorpelzelle"}]},
      "mark": {"type": "text"},
      "encoding": {"x": {"datum": 2247, "axis": null}, "y": {"datum": 314, "axis": null}, "text": {"field": "t"}}
    },
    {
      "data": {"values": [{"t": "cartilage cell"}]},
      "mark": {"type": "text", "fontStyle": "italic", "fontSize": 15},
      "encoding": {"x": {"datum": 2247, "axis": null}, "y": {"datum": -412, "axis": null}, "text": {"field": "t"}}
    }
  ]
}
